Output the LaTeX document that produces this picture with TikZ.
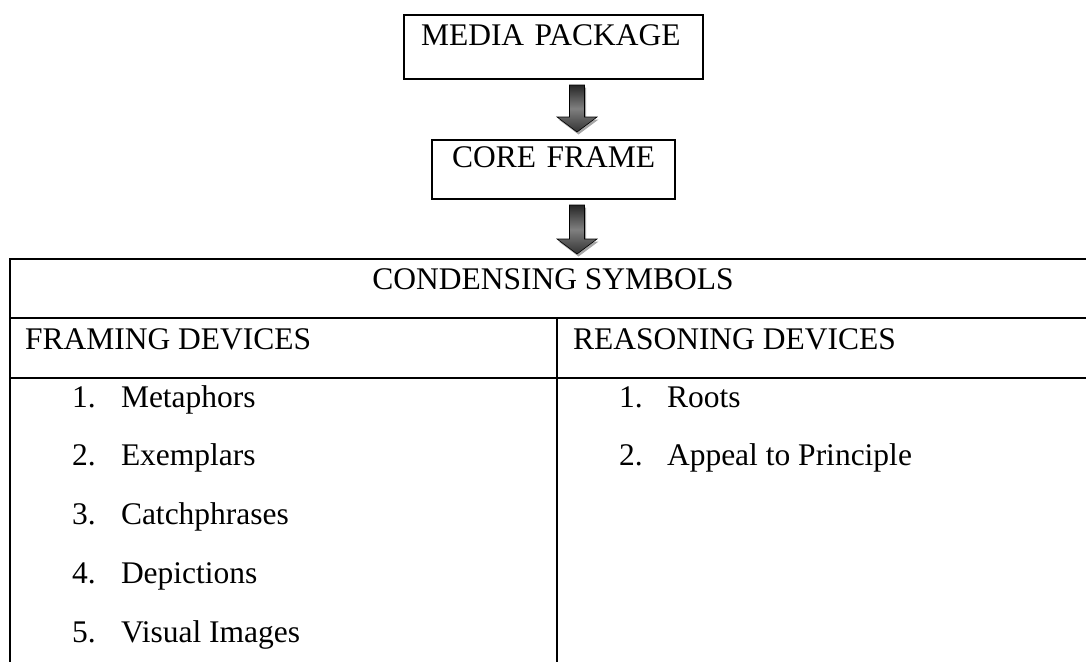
\documentclass[tikz,border=0pt]{standalone}
\usepackage{fontspec}
\setmainfont{Liberation Serif}
\usetikzlibrary{calc}

\tikzset{
  txt/.style={inner sep=0pt, outer sep=0pt, font=\fontsize{31.5}{38}\selectfont},
  framebox/.style={txt, draw=black, line width=2pt, align=left},
  tablerule/.style={line width=2pt},
  arrowshadow/.style={fill=black!35, draw=none},
  arrowshade/.style={draw=black, line width=0.6pt, top color=black!85, bottom color=black!80, middle color=black!50},
}

% block arrow outline, shifted by #1 right and #2 down
\newcommand\arrowoutline[2]{%
  (\x1-7.5pt+#1,\y1-#2) -- (\x1+7.5pt+#1,\y1-#2) -- (\x1+7.5pt+#1,\y2+15pt-#2)
  -- (\x1+20pt+#1,\y2+15pt-#2) -- (\x1+#1,\y2-#2) -- (\x1-20pt+#1,\y2+15pt-#2)
  -- (\x1-7.5pt+#1,\y2+15pt-#2) -- cycle}
\newcommand\blockarrow[2]{%
  \path[arrowshadow] let \p1=#1, \p2=#2 in \arrowoutline{1.5pt}{2.5pt};
  \path[arrowshade] let \p1=#1, \p2=#2 in \arrowoutline{0pt}{0pt};
}

\begin{document}
\begin{tikzpicture}[x=1pt,y=-1pt]
\useasboundingbox (0,0) rectangle (1086,661);

\node[framebox, text width=265pt, inner xsep=17pt, text height=30.5pt, text depth=33.5pt, anchor=north west] (media) at (404,15) {\mbox{MEDIA PACKAGE}};
\node[framebox, text width=203pt, inner xsep=20pt, text height=27.5pt, text depth=31.5pt, anchor=north west] (core) at (432,140) {\mbox{CORE FRAME}};

% table
\coordinate (tabtop) at (553.5,259);
\draw[tablerule] (10,665) -- (10,259) -- (1090,259);
\draw[tablerule] (10,318) -- (1090,318);
\draw[tablerule] (10,378) -- (1090,378);
\draw[tablerule] (557,318) -- (557,665);

\node[txt, anchor=base] (cond) at (553,289) {CONDENSING SYMBOLS};
\node[txt, anchor=base west] (framing) at (25,349) {FRAMING DEVICES};
\node[txt, anchor=base west] (reasoning) at (573,349) {REASONING DEVICES};

\foreach \t [count=\i] in {Metaphors,Exemplars,Catchphrases,Depictions,Visual Images} {
  \node[txt, anchor=base west] (fnum\i) at (72,{407+58.75*(\i-1)}) {\i.};
  \node[txt, anchor=base west] (fdev\i) at (121,{407+58.75*(\i-1)}) {\t};
}
\foreach \t [count=\i] in {Roots,Appeal to Principle} {
  \node[txt, anchor=base west] (rnum\i) at (619,{407+58.75*(\i-1)}) {\i.};
  \node[txt, anchor=base west] (rdev\i) at (667,{407+58.75*(\i-1)}) {\t};
}

\blockarrow{($(media.south)+(23.5,6)$)}{($(core.north)+(23.5,-8)$)}
\blockarrow{($(core.south)+(23.5,6)$)}{($(tabtop)+(23.5,-5)$)}
\end{tikzpicture}
\end{document}
